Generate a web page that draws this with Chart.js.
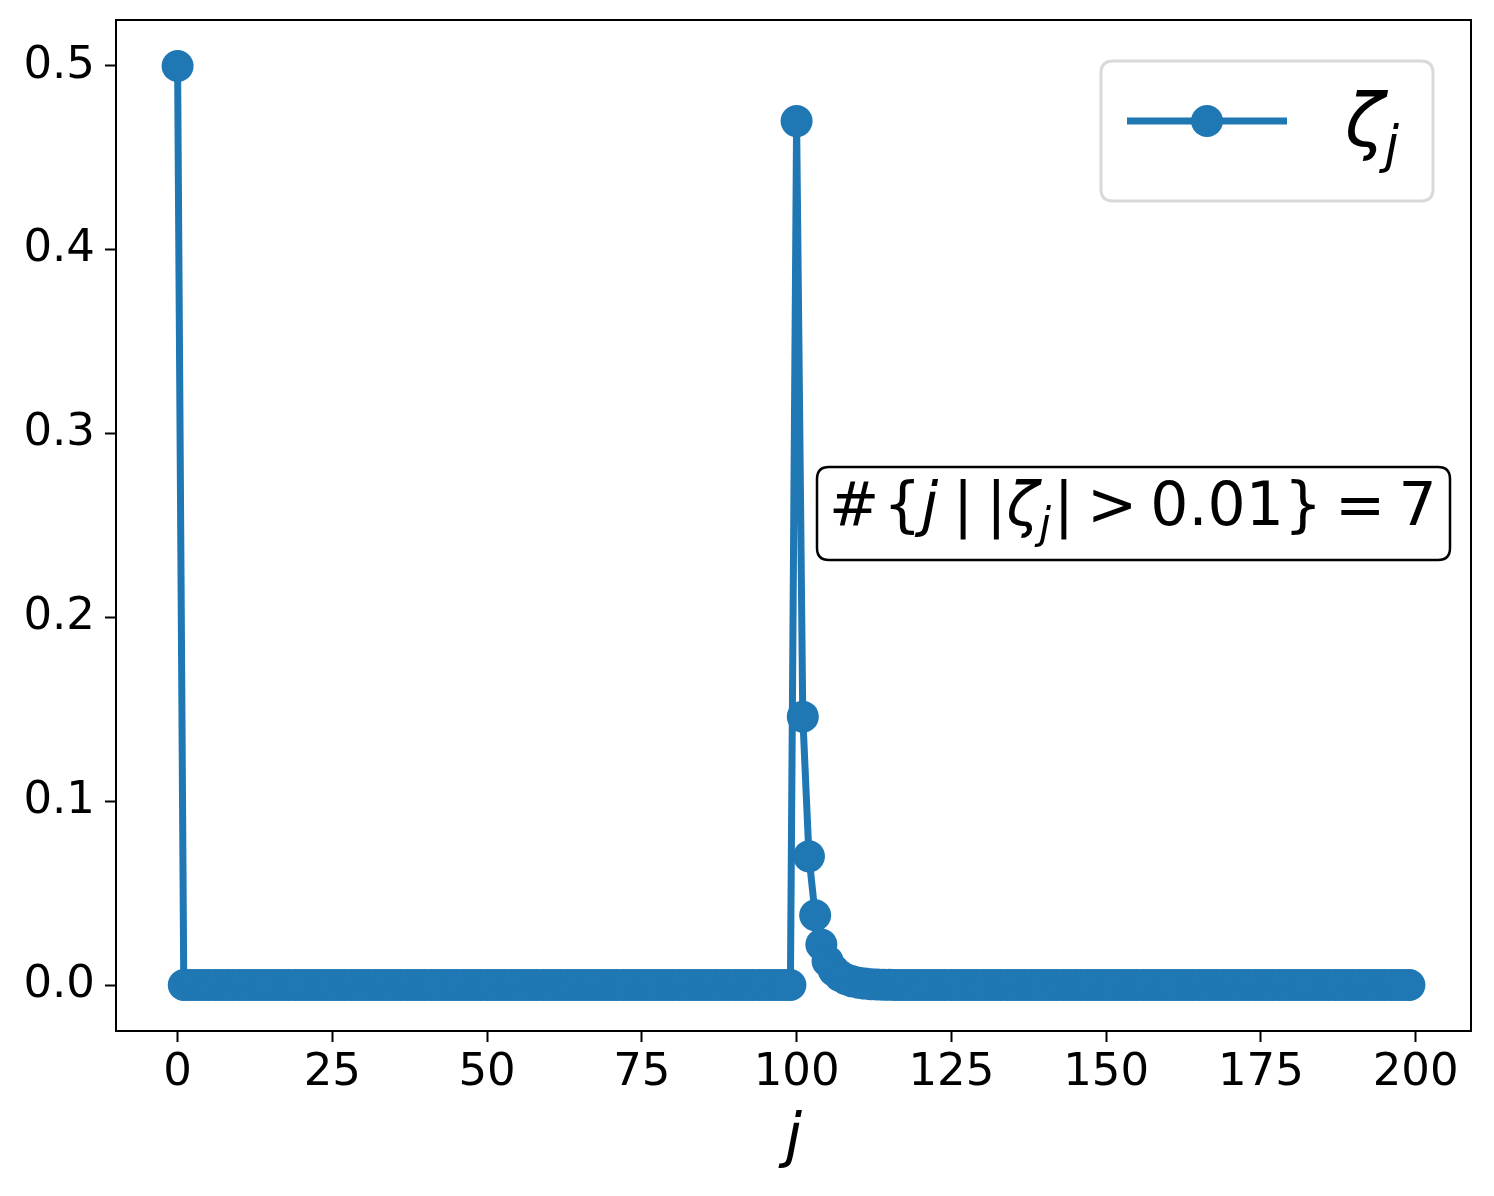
<!DOCTYPE html>
<html>
<head>
<meta charset="utf-8">
<script src="https://cdn.jsdelivr.net/npm/chart.js@4.4.1/dist/chart.umd.min.js"></script>
<style>
  html, body { margin: 0; padding: 0; background: #fff; }
  #wrap { width: 1494px; height: 1196px; position: relative; }
</style>
</head>
<body>
<div id="wrap"><canvas id="grafico"></canvas></div>
<script>
// valores de zeta_j (j = 0..199)
const zeta = [
  0.5,
  0, 0, 0, 0, 0, 0, 0, 0, 0, 0,
  0, 0, 0, 0, 0, 0, 0, 0, 0, 0,
  0, 0, 0, 0, 0, 0, 0, 0, 0, 0,
  0, 0, 0, 0, 0, 0, 0, 0, 0, 0,
  0, 0, 0, 0, 0, 0, 0, 0, 0, 0,
  0, 0, 0, 0, 0, 0, 0, 0, 0, 0,
  0, 0, 0, 0, 0, 0, 0, 0, 0, 0,
  0, 0, 0, 0, 0, 0, 0, 0, 0, 0,
  0, 0, 0, 0, 0, 0, 0, 0, 0, 0,
  0, 0, 0, 0, 0, 0, 0, 0, 0,
  0.47, 0.146, 0.070, 0.038, 0.022, 0.013, 0.008, 0.005, 0.0032, 0.002,
  0.0013, 0.0008, 0.0005, 0.0003, 0.0002, 0.0001,
  0, 0, 0, 0,
  0, 0, 0, 0, 0, 0, 0, 0, 0, 0,
  0, 0, 0, 0, 0, 0, 0, 0, 0, 0,
  0, 0, 0, 0, 0, 0, 0, 0, 0, 0,
  0, 0, 0, 0, 0, 0, 0, 0, 0, 0,
  0, 0, 0, 0, 0, 0, 0, 0, 0, 0,
  0, 0, 0, 0, 0, 0, 0, 0, 0, 0,
  0, 0, 0, 0, 0, 0, 0, 0, 0, 0,
  0, 0, 0, 0, 0, 0, 0, 0, 0, 0
];
const xTicks = [0, 25, 50, 75, 100, 125, 150, 175, 200];
const yTicks = [0.0, 0.1, 0.2, 0.3, 0.4, 0.5];
const umbral = 0.01;
const conteo = zeta.filter((v) => Math.abs(v) > umbral).length;

const azul = "#1f77b4";
const fuente = "'DejaVu Sans', sans-serif";

// dibuja texto por partes (normal, cursiva, subindice)
const textoPartes = (ctx, partes, x, y, size) => {
  let cx = x;
  partes.forEach((p) => {
    const s = p.sub ? size * 0.7 : size;
    ctx.font = (p.it ? "italic " : "") + s + "px " + fuente;
    ctx.fillText(p.t, cx, y + (p.sub ? size * 0.22 : 0));
    cx += ctx.measureText(p.t).width + (p.gap || 0);
  });
  return cx;
};

const cajaRedonda = (ctx, x, y, w, h, r) => {
  ctx.beginPath();
  ctx.moveTo(x + r, y);
  ctx.lineTo(x + w - r, y);
  ctx.quadraticCurveTo(x + w, y, x + w, y + r);
  ctx.lineTo(x + w, y + h - r);
  ctx.quadraticCurveTo(x + w, y + h, x + w - r, y + h);
  ctx.lineTo(x + r, y + h);
  ctx.quadraticCurveTo(x, y + h, x, y + h - r);
  ctx.lineTo(x, y + r);
  ctx.quadraticCurveTo(x, y, x + r, y);
  ctx.closePath();
};

const extras = {
  id: "extras",
  afterDraw(chart) {
    const ctx = chart.ctx;
    const a = chart.chartArea;
    ctx.save();
    // marco
    ctx.strokeStyle = "#000";
    ctx.lineWidth = 2;
    ctx.strokeRect(a.left, a.top, a.right - a.left, a.bottom - a.top);

    // etiqueta eje x
    ctx.fillStyle = "#000";
    ctx.textAlign = "center";
    ctx.textBaseline = "alphabetic";
    ctx.font = "italic 60px " + fuente;
    ctx.fillText("j", (a.left + a.right) / 2, 1156);

    // leyenda
    ctx.textAlign = "left";
    cajaRedonda(ctx, 1101, 61, 332, 140, 12);
    ctx.fillStyle = "rgba(255,255,255,0.8)";
    ctx.fill();
    ctx.strokeStyle = "#d9d9d9";
    ctx.lineWidth = 3;
    ctx.stroke();
    ctx.strokeStyle = azul;
    ctx.lineWidth = 7;
    ctx.beginPath();
    ctx.moveTo(1127, 121);
    ctx.lineTo(1287, 121);
    ctx.stroke();
    ctx.fillStyle = azul;
    ctx.beginPath();
    ctx.arc(1207, 121, 16, 0, Math.PI * 2);
    ctx.fill();
    ctx.fillStyle = "#000";
    textoPartes(ctx, [{ t: "ζ", it: true }, { t: "j", it: true, sub: true }], 1345, 146, 73);

    // anotacion
    const partes = [
      { t: "#", gap: 4 },
      { t: "{" },
      { t: "j", it: true, gap: 15 },
      { t: "|", gap: 13 },
      { t: "|" },
      { t: "ζ", it: true },
      { t: "j", it: true, sub: true, gap: 3 },
      { t: "|", gap: 13 },
      { t: ">", gap: 13 },
      { t: "0.01", gap: 0 },
      { t: "}", gap: 13 },
      { t: "=", gap: 13 },
      { t: String(conteo) },
    ];
    cajaRedonda(ctx, 817, 467, 633, 93, 12);
    ctx.fillStyle = "#fff";
    ctx.fill();
    ctx.strokeStyle = "#000";
    ctx.lineWidth = 2.5;
    ctx.stroke();
    ctx.fillStyle = "#000";
    textoPartes(ctx, partes, 829, 525, 60);
    ctx.restore();
  },
};

const config = {
  type: "line",
  data: {
    datasets: [
      {
        label: "ζj",
        data: zeta.map((v, j) => ({ x: j, y: v })),
        borderColor: azul,
        backgroundColor: azul,
        borderWidth: 7,
        pointRadius: 16,
        pointHoverRadius: 16,
        pointBorderWidth: 0,
        pointBackgroundColor: azul,
        fill: false,
        tension: 0,
      },
    ],
  },
  options: {
    responsive: false,
    animation: false,
    events: [],
    layout: { padding: { top: 20, right: 23, left: 0, bottom: 0 } },
    plugins: { legend: { display: false }, tooltip: { enabled: false } },
    scales: {
      x: {
        type: "linear",
        min: -9.95,
        max: 208.95,
        afterBuildTicks: (s) => { s.ticks = xTicks.map((v) => ({ value: v })); },
        afterFit: (s) => { s.height = 165; s.paddingLeft = 0; s.paddingRight = 0; },
        grid: { drawOnChartArea: false, drawTicks: true, tickLength: 11, tickWidth: 2, color: "#000" },
        border: { display: true, color: "#000", width: 2 },
        ticks: { color: "#000", font: { family: fuente, size: 45 }, padding: 4, maxRotation: 0 },
      },
      y: {
        type: "linear",
        min: -0.025,
        max: 0.525,
        afterBuildTicks: (s) => { s.ticks = yTicks.map((v) => ({ value: v })); },
        afterFit: (s) => { s.width = 116; s.paddingTop = 0; s.paddingBottom = 0; },
        grid: { drawOnChartArea: false, drawTicks: true, tickLength: 11, tickWidth: 2, color: "#000" },
        border: { display: true, color: "#000", width: 2 },
        ticks: { color: "#000", font: { family: fuente, size: 45 }, padding: 10, callback: (v) => v.toFixed(1) },
      },
    },
  },
  plugins: [extras],
};

const cv = document.getElementById("grafico");
cv.width = 1494;
cv.height = 1196;
new Chart(cv, config);
</script>
</body>
</html>
